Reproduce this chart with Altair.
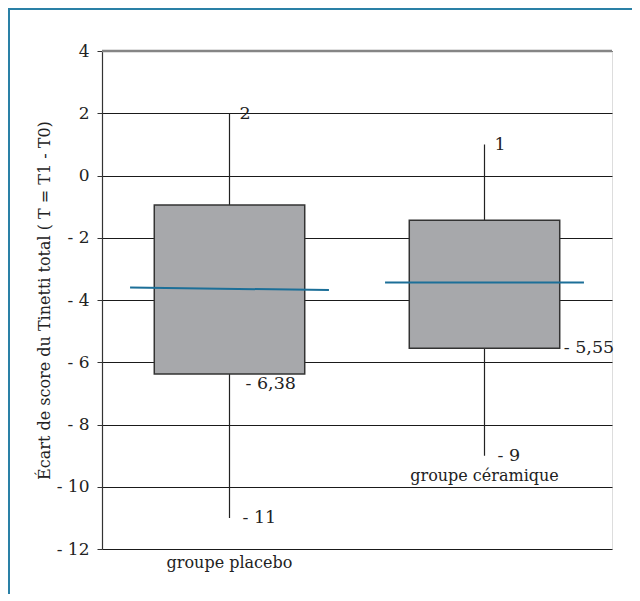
import altair as alt
import pandas as pd

# ---- data ----
groups = ["groupe placebo", "groupe céramique"]
positions = [1, 3]                 # category slots on a 0..4 axis
q_low = [-6.38, -5.55]             # bottom of box
q_high = [-0.95, -1.44]            # top of box
w_min = [-11, -9]                  # whisker low
w_max = [2, 1]                     # whisker high
med_left = [-3.60, -3.44]          # median line, left end
med_right = [-3.68, -3.44]         # median line, right end
y_ticks = [4, 2, 0, -2, -4, -6, -8, -10, -12]


def fmt(v):
    s = f"{abs(v):g}".replace(".", ",")
    return ("- " if v < 0 else "") + s


df = pd.DataFrame(dict(
    group=groups, pos=positions, q1=q_low, q3=q_high,
    lo=w_min, hi=w_max, ml=med_left, mr=med_right,
    t_lo=[fmt(v) for v in w_min], t_hi=[fmt(v) for v in w_max],
    t_q1=[fmt(v) for v in q_low], idx=[0, 1],
))

# ---- layout / style ----
W, H = 510, 498
BOX_HALF = 0.59
MED_HALF = 0.78
FONT = "DejaVu Serif"
INK = "#222222"
FRAME = "#2a80a6"

xs = alt.Scale(domain=[0, 4])
ys = alt.Scale(domain=[-12, 4], nice=False)
base = alt.Chart(df)

yaxis = alt.Axis(
    values=y_ticks,
    title="Écart de score du Tinetti total ( T = T1 - T0)",
    labelExpr="datum.value < 0 ? '- ' + abs(datum.value) : datum.label",
    grid=True, gridColor="#1a1a1a", gridWidth=1.2,
    domainColor="#333333", domainWidth=1.2,
    tickColor="#333333", tickSize=5,
    labelPadding=8, labelFont=FONT, labelFontSize=17, labelColor=INK,
    titleFont=FONT, titleFontSize=16, titleFontWeight="normal",
    titleColor=INK, titlePadding=4,
)

whiskers = base.mark_rule(color=INK, strokeWidth=1.2).encode(
    x=alt.X("pos:Q", scale=xs, axis=None),
    y=alt.Y("lo:Q", scale=ys, axis=yaxis),
    y2="hi:Q",
)

boxes = base.transform_calculate(
    bx1=f"datum.pos - {BOX_HALF}", bx2=f"datum.pos + {BOX_HALF}"
).mark_rect(fill="#a7a8ab", stroke="#333333", strokeWidth=1.5).encode(
    x=alt.X("bx1:Q", scale=xs, axis=None), x2="bx2:Q",
    y=alt.Y("q1:Q", scale=ys), y2="q3:Q",
)

medians = base.transform_calculate(
    mx1=f"datum.pos - {MED_HALF}", mx2=f"datum.pos + {MED_HALF}"
).mark_rule(color="#1c6f98", strokeWidth=2).encode(
    x=alt.X("mx1:Q", scale=xs, axis=None), x2="mx2:Q",
    y=alt.Y("ml:Q", scale=ys), y2="mr:Q",
)

top_line = alt.Chart(pd.DataFrame({"y": [y_ticks[0]]})).mark_rule(
    color="#858585", strokeWidth=2.5
).encode(y=alt.Y("y:Q", scale=ys), x=alt.value(0), x2=alt.value(W))

txt = dict(font=FONT, fontSize=17.5, color=INK, align="left", baseline="middle")

hi_lbl = base.mark_text(dx=10, dy=1, **txt).encode(
    x=alt.X("pos:Q", scale=xs), y=alt.Y("hi:Q", scale=ys), text="t_hi:N")
lo_lbl = base.mark_text(dx=13, dy=0, **txt).encode(
    x=alt.X("pos:Q", scale=xs), y=alt.Y("lo:Q", scale=ys), text="t_lo:N")
q1_lbl_a = base.transform_filter("datum.idx == 0").mark_text(dx=16, dy=10, **txt).encode(
    x=alt.X("pos:Q", scale=xs), y=alt.Y("q1:Q", scale=ys), text="t_q1:N")
q1_lbl_b = base.transform_filter("datum.idx == 1").transform_calculate(
    bx2=f"datum.pos + {BOX_HALF}"
).mark_text(dx=4, dy=0, **txt).encode(
    x=alt.X("bx2:Q", scale=xs), y=alt.Y("q1:Q", scale=ys), text="t_q1:N")

gtxt = dict(font=FONT, fontSize=16, color=INK, align="center", baseline="middle")
g_placebo = base.transform_filter("datum.idx == 0").mark_text(**gtxt).encode(
    x=alt.X("pos:Q", scale=xs), y=alt.value(H + 14), text="group:N")
g_ceram = base.transform_filter("datum.idx == 1").mark_text(dy=20, **gtxt).encode(
    x=alt.X("pos:Q", scale=xs), y=alt.Y("lo:Q", scale=ys), text="group:N")

frame_left = alt.Chart(pd.DataFrame({"a": [0]})).mark_rule(
    color=FRAME, strokeWidth=2
).encode(x=alt.value(-93), y=alt.value(-42), y2=alt.value(H + 60))
frame_top = alt.Chart(pd.DataFrame({"a": [0]})).mark_rule(
    color=FRAME, strokeWidth=2
).encode(y=alt.value(-42), x=alt.value(-94), x2=alt.value(W + 40))

chart = alt.layer(
    whiskers, top_line, boxes, medians,
    hi_lbl, lo_lbl, q1_lbl_a, q1_lbl_b, g_placebo, g_ceram,
    frame_left, frame_top,
).properties(
    width=W, height=H,
    autosize=alt.AutoSizeParams(type="none"),
    padding={"left": 94, "top": 43, "right": 20, "bottom": 45},
).configure_view(stroke=None).configure(background="white")

chart.save("out.html", embed_options={"renderer": "svg", "actions": False})
